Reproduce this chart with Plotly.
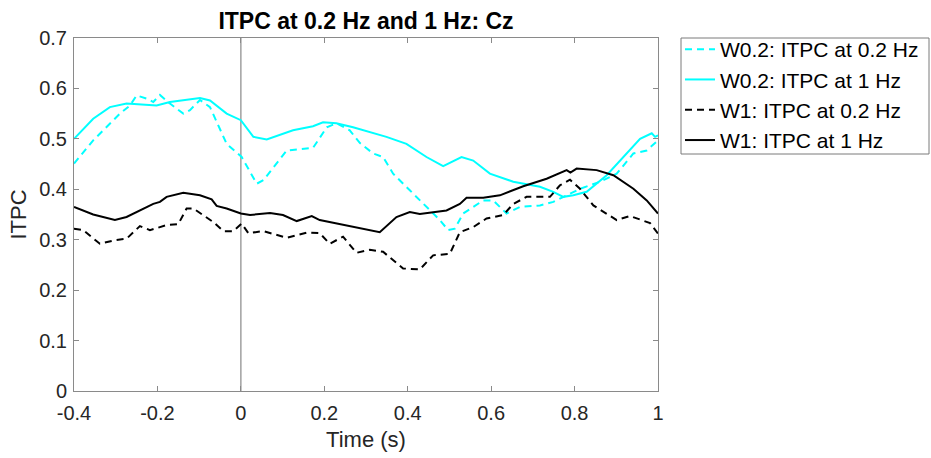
import plotly.graph_objects as go

# W0.2: ITPC at 1 Hz (cyan solid)
t_c1 = [-0.4, -0.354, -0.314, -0.274, -0.202, -0.170, -0.098, -0.074, -0.034, 0.0, 0.03, 0.062,
        0.125, 0.173, 0.197, 0.229, 0.269, 0.349, 0.397, 0.445, 0.485, 0.529, 0.557, 0.597,
        0.653, 0.717, 0.749, 0.773, 0.797, 0.829, 0.877, 0.925, 0.957, 0.985, 0.993, 1.0]
v_c1 = [0.500, 0.540, 0.563, 0.570, 0.566, 0.573, 0.581, 0.576, 0.550, 0.537, 0.504, 0.499,
        0.517, 0.525, 0.533, 0.531, 0.523, 0.504, 0.490, 0.464, 0.446, 0.464, 0.457, 0.431,
        0.415, 0.405, 0.395, 0.385, 0.388, 0.395, 0.428, 0.471, 0.500, 0.511, 0.504, 0.507]

# W0.2: ITPC at 0.2 Hz (cyan dashed)
t_c02 = [-0.4, -0.354, -0.290, -0.266, -0.250, -0.226, -0.210, -0.194, -0.170, -0.138, -0.122,
         -0.098, -0.074, -0.034, 0.002, 0.038, 0.054, 0.110, 0.173, 0.206, 0.229, 0.261, 0.285,
         0.317, 0.341, 0.365, 0.405, 0.453, 0.477, 0.497, 0.513, 0.533, 0.557, 0.581, 0.605,
         0.637, 0.669, 0.717, 0.749, 0.789, 0.813, 0.861, 0.901, 0.941, 0.973, 1.0]
v_c02 = [0.451, 0.497, 0.550, 0.566, 0.586, 0.580, 0.573, 0.587, 0.570, 0.550, 0.557,
         0.577, 0.563, 0.490, 0.464, 0.411, 0.418, 0.477, 0.482, 0.523, 0.531, 0.517, 0.492,
         0.471, 0.464, 0.431, 0.398, 0.358, 0.339, 0.319, 0.322, 0.352, 0.365, 0.378, 0.378,
         0.352, 0.365, 0.368, 0.375, 0.391, 0.401, 0.415, 0.431, 0.471, 0.477, 0.497]

# W1: ITPC at 0.2 Hz (black dashed)
t_k02 = [-0.4, -0.378, -0.338, -0.302, -0.274, -0.242, -0.218, -0.178, -0.150, -0.130, -0.114,
         -0.090, -0.066, -0.042, -0.018, 0.002, 0.018, 0.054, 0.110, 0.158, 0.189, 0.213, 0.245,
         0.277, 0.309, 0.341, 0.389, 0.429, 0.461, 0.501, 0.525, 0.557, 0.589, 0.629, 0.653,
         0.685, 0.741, 0.765, 0.789, 0.813, 0.845, 0.901, 0.933, 0.981, 1.0]
v_k02 = [0.322, 0.319, 0.292, 0.299, 0.302, 0.327, 0.319, 0.329, 0.331, 0.362, 0.362,
         0.349, 0.335, 0.317, 0.317, 0.332, 0.313, 0.317, 0.304, 0.314, 0.313, 0.292, 0.306,
         0.274, 0.280, 0.276, 0.243, 0.241, 0.269, 0.272, 0.315, 0.325, 0.342, 0.349, 0.371,
         0.385, 0.385, 0.408, 0.419, 0.401, 0.368, 0.339, 0.347, 0.333, 0.312]

# W1: ITPC at 1 Hz (black solid)
t_k1 = [-0.4, -0.354, -0.302, -0.274, -0.210, -0.194, -0.178, -0.138, -0.098, -0.070, -0.058,
        -0.034, 0.0, 0.022, 0.070, 0.101, 0.134, 0.170, 0.189, 0.237, 0.285, 0.333, 0.373,
        0.405, 0.429, 0.493, 0.525, 0.541, 0.581, 0.621, 0.677, 0.733, 0.781, 0.790, 0.805,
        0.853, 0.893, 0.941, 0.973, 1.0]
v_k1 = [0.365, 0.350, 0.339, 0.345, 0.371, 0.375, 0.385, 0.393, 0.388, 0.380, 0.367,
        0.362, 0.352, 0.349, 0.353, 0.349, 0.337, 0.347, 0.339, 0.331, 0.322, 0.315, 0.345,
        0.355, 0.351, 0.358, 0.371, 0.383, 0.383, 0.388, 0.406, 0.421, 0.438, 0.433, 0.441,
        0.438, 0.428, 0.401, 0.378, 0.352]

x_ticks = [-0.4, -0.2, 0, 0.2, 0.4, 0.6, 0.8, 1]
x_tick_labels = ["-0.4", "-0.2", "0", "0.2", "0.4", "0.6", "0.8", "1"]
y_ticks = [0, 0.1, 0.2, 0.3, 0.4, 0.5, 0.6, 0.7]
y_tick_labels = ["0", "0.1", "0.2", "0.3", "0.4", "0.5", "0.6", "0.7"]

CYAN = "#00FFFF"
BLACK = "#000000"
DASH = "7px,5px"

fig = go.Figure()
fig.add_trace(go.Scatter(x=t_c02, y=v_c02, mode="lines", name="W0.2: ITPC at 0.2 Hz",
                         line=dict(color=CYAN, width=2, dash=DASH)))
fig.add_trace(go.Scatter(x=t_c1, y=v_c1, mode="lines", name="W0.2: ITPC at 1 Hz",
                         line=dict(color=CYAN, width=2)))
fig.add_trace(go.Scatter(x=t_k02, y=v_k02, mode="lines", name="W1: ITPC at 0.2 Hz",
                         line=dict(color=BLACK, width=2, dash=DASH)))
fig.add_trace(go.Scatter(x=t_k1, y=v_k1, mode="lines", name="W1: ITPC at 1 Hz",
                         line=dict(color=BLACK, width=2)))

fig.add_shape(type="line", xref="x", yref="paper", x0=0, x1=0, y0=0, y1=1,
              line=dict(color="#a0a0a0", width=1.5), layer="below")

# legend frame (paper coordinates), drawn as a separate rectangle
L, R, T, B = 74, 658, 38, 391
PW, PH = R - L, B - T
fig.add_shape(type="rect", xref="paper", yref="paper",
              x0=(681 - L) / PW, x1=(929 - L) / PW,
              y0=(B - 154) / PH, y1=(B - 38) / PH,
              line=dict(color="#7a7a7a", width=1), fillcolor="rgba(0,0,0,0)")

FONT = "Liberation Sans, Arial, sans-serif"
AX = "#8a8a8a"

fig.update_layout(
    width=931, height=458,
    margin=dict(l=L, r=931 - R, t=T, b=458 - B, autoexpand=False),
    paper_bgcolor="white", plot_bgcolor="white",
    font=dict(family=FONT, size=20, color="#262626"),
    title=dict(text="<b>ITPC at 0.2 Hz and 1 Hz: Cz</b>", x=(L + PW / 2) / 931, xanchor="center",
               y=1 - 21 / 458, yanchor="middle", font=dict(size=23, color="#000000")),
    showlegend=True,
    legend=dict(x=(680 - L) / PW, y=(B - 29) / PH, xanchor="left", yanchor="top",
                borderwidth=0, bgcolor="rgba(0,0,0,0)",
                font=dict(size=21, color="#000000"), tracegroupgap=0,
                itemwidth=30),
    xaxis=dict(range=[-0.4, 1], tickvals=x_ticks, ticktext=x_tick_labels,
               ticks="inside", ticklen=5, tickcolor=AX, showline=True, linecolor=AX,
               linewidth=1, mirror="ticks", showgrid=False, zeroline=False,
               ticklabelstandoff=4,
               title=dict(text="Time (s)", font=dict(size=22), standoff=8),
               tickfont=dict(size=20)),
    yaxis=dict(range=[0, 0.7], tickvals=y_ticks, ticktext=y_tick_labels,
               ticks="inside", ticklen=5, tickcolor=AX, showline=True, linecolor=AX,
               linewidth=1, mirror="ticks", showgrid=False, zeroline=False,
               ticklabelstandoff=2,
               title=dict(text="ITPC", font=dict(size=22), standoff=6),
               tickfont=dict(size=20)),
)

fig.write_html("out.html")
